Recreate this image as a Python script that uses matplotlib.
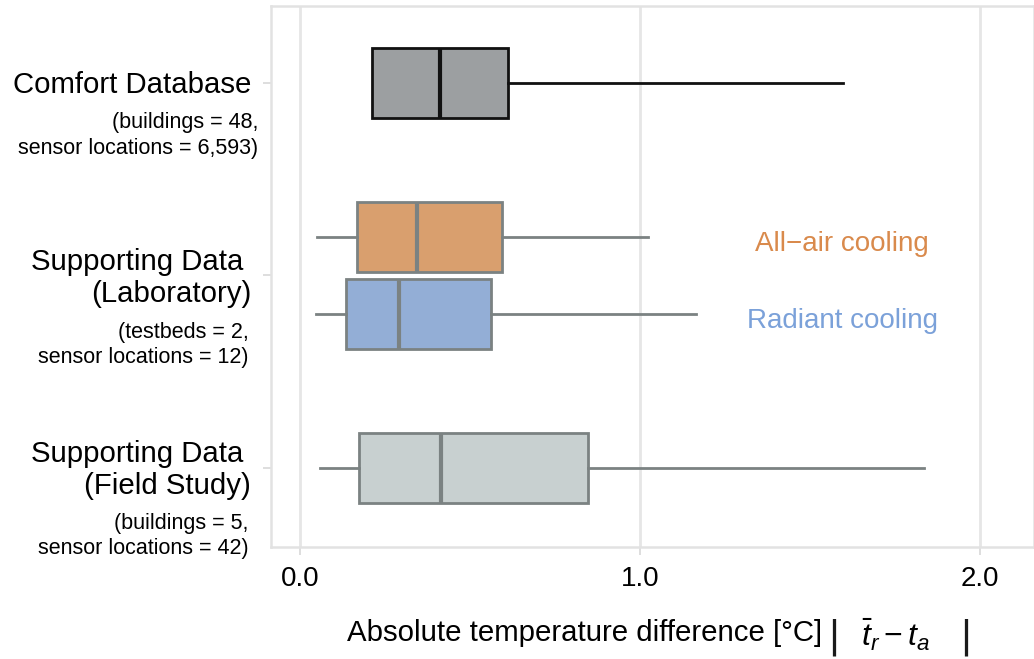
import matplotlib
matplotlib.use("Agg")
import matplotlib.pyplot as plt
import matplotlib.transforms as mtransforms

plt.rcParams['font.family'] = ['Liberation Sans', 'DejaVu Sans']
plt.rcParams['mathtext.fontset'] = 'custom'
plt.rcParams['mathtext.rm'] = 'Liberation Sans'
plt.rcParams['mathtext.it'] = 'Liberation Sans:italic'

# ---- data ----
group_labels = ["Comfort Database", "Supporting Data \n(Laboratory)", "Supporting Data \n(Field Study)"]
group_notes = ["(buildings = 48,\nsensor locations = 6,593)",
               "(testbeds = 2,\nsensor locations = 12)",
               "(buildings = 5,\nsensor locations = 42)"]
series_names = ["Comfort Database", "All\u2212air cooling", "Radiant cooling", "Field Study"]
series_group = [0, 1, 1, 2]
whis_lo = [0.212, 0.050, 0.047, 0.059]
q1 = [0.212, 0.168, 0.135, 0.174]
median = [0.412, 0.344, 0.291, 0.415]
q3 = [0.612, 0.594, 0.562, 0.847]
whis_hi = [1.597, 1.024, 1.165, 1.835]
x_ticks = [0.0, 1.0, 2.0]
x_tick_labels = ["0.0", "1.0", "2.0"]
x_label_text = "Absolute temperature difference [°C]"
x_label_math = r"$\bar{t}_r - t_a$"

# ---- styles ----
fills = ["#9c9fa1", "#d99f6e", "#93aed6", "#c8d0d0"]
edges = ["#111111", "#7b8282", "#7b8282", "#7b8282"]
offsets = [0.0, -0.2, 0.2, 0.0]
text_colors = {1: "#d98a4c", 2: "#7ba1d9"}
main_dy = [-1.5, -1.5, -1.5]     # points
note_dy = [-38, -50, -49]        # points
note_dx = [-9, -16, -16]         # points

W, H = 1034, 659
fig = plt.figure(figsize=(W / 100, H / 100), dpi=100)
ax = fig.add_axes([0.2618, 0.170, 0.7382, 0.821])

for i in range(len(series_names)):
    stats = [dict(whislo=whis_lo[i], q1=q1[i], med=median[i], q3=q3[i],
                  whishi=whis_hi[i], label=series_names[i])]
    pos = series_group[i] + offsets[i]
    ax.bxp(stats, positions=[pos], widths=0.36, vert=False, patch_artist=True,
           showfliers=False, showcaps=False, manage_ticks=False,
           boxprops=dict(facecolor=fills[i], edgecolor=edges[i], linewidth=2.0),
           medianprops=dict(color=edges[i], linewidth=3.0),
           whiskerprops=dict(color=edges[i], linewidth=2.0), zorder=3)

ax.set_xlim(-0.086, 2.159)
ax.set_ylim(2.41, -0.40)
ax.set_xticks(x_ticks)
ax.set_xticklabels(x_tick_labels, fontsize=20)
ax.set_yticks(range(len(group_labels)))
ax.set_yticklabels([""] * len(group_labels))
ax.tick_params(axis='both', color="#d8d8d8", length=6, width=1.2)
ax.tick_params(axis='x', pad=8)
ax.grid(axis='x', color="#e6e6e6", linewidth=2.0, zorder=0)
ax.set_axisbelow(True)
for s in ax.spines.values():
    s.set_color("#e2e2e2")
    s.set_linewidth(1.8)

# x label: text part + math part between tall bars
ax.set_xlabel(x_label_text, fontsize=21.2)
ax.xaxis.set_label_coords((585 - 270.7) / 763.3, -(633 - 547) / 541)
ax.xaxis.label.set_va('center')
bar_font = ['Roboto', 'Liberation Sans', 'DejaVu Sans']
for bx in (834, 966):
    fig.text(bx / W, 1 - 638 / H, "|", fontsize=32, family=bar_font, fontweight='normal',
             ha='center', va='center', color='#1a1a1a')
fig.text(896 / W, 1 - 635 / H, x_label_math, fontsize=23, ha='center', va='center')

trans = mtransforms.blended_transform_factory(ax.transAxes, ax.transData)
for g in range(len(group_labels)):
    ax.annotate(group_labels[g], xy=(0, g), xycoords=trans,
                xytext=(-14, main_dy[g]), textcoords='offset points',
                ha='right', va='center', fontsize=21.2, linespacing=1.18,
                annotation_clip=False)
    ax.annotate(group_notes[g], xy=(0, g), xycoords=trans,
                xytext=(note_dx[g], note_dy[g]), textcoords='offset points',
                ha='right', va='center', fontsize=15.5, linespacing=1.3,
                annotation_clip=False)

for i in (1, 2):
    ax.text(1.595, series_group[i] + offsets[i] + 0.035, series_names[i],
            color=text_colors[i], fontsize=20, ha='center', va='center')

fig.savefig("out.png", dpi=100)
